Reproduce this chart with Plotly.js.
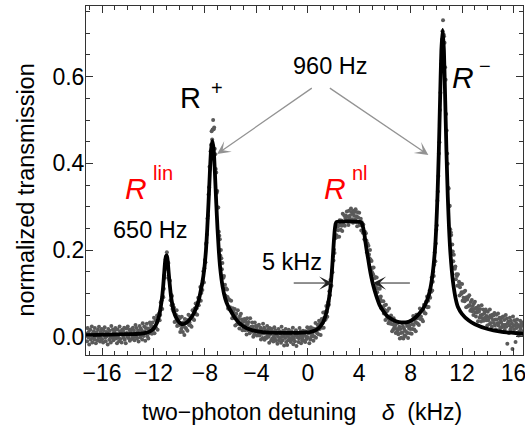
<!DOCTYPE html>
<html>
<head>
<meta charset="utf-8">
<script src="https://cdn.plot.ly/plotly-3.0.1.min.js"></script>
<style>html,body{margin:0;padding:0;background:#fff;}#chart{width:525px;height:431px;}</style>
</head>
<body>
<div id="chart"></div>
<script>
// measured transmission (gray dots), evenly spaced in detuning
const dataStart = -17.2;   // kHz
const dataStep = 0.04;     // kHz
const dataY = [
.007,-.010,.020,-.001,.011,-.018,.004,.016,-.006,.002,
.024,-.013,.008,-.002,.013,-.006,.020,.002,-.015,.010,
.006,-.008,.016,-.003,.023,.001,-.011,.011,-.004,.018,
-.006,.007,-.013,.015,.004,.022,-.002,-.010,.011,.001,
.009,-.018,.018,.006,-.007,.014,0,-.013,.025,.004,
-.003,.017,-.008,.009,.013,.001,.020,-.004,.006,-.015,
.017,-.002,.004,-.010,.024,.012,-.005,.008,-.013,.016,
.004,.014,-.002,.021,-.007,.007,-.015,.019,.009,0,
.024,-.003,.003,.016,-.009,.012,.007,-.005,.018,.002,
.021,-.001,.014,-.008,.004,.027,.001,.020,-.004,.010,
.014,-.011,.007,.025,-.001,.019,.004,.015,-.006,.031,
.009,.002,.024,.012,-.009,.020,.009,.030,.001,.019,
-.004,.018,.008,.033,.014,.027,.024,.007,.033,.014,
.022,.044,.008,.022,.038,.020,.035,.049,.016,.045,
.040,.054,.038,.050,.079,.066,.084,.064,.093,.091,
.111,.142,.136,.164,.179,.165,.195,.174,.156,.170,
.135,.131,.129,.084,.097,.073,.094,.064,.074,.059,
.067,.034,.052,.036,.050,.061,.025,.037,.029,.046,
.027,.043,.011,.031,.018,.046,.023,.011,.033,.025,
.004,.041,.021,.032,.018,.039,.014,.033,.051,.027,
.033,.048,.026,.047,.023,.047,.061,.041,.058,.039,
.065,.055,.077,.052,.066,.051,.079,.090,.073,.087,
.084,.115,.083,.101,.120,.108,.130,.151,.125,.158,
.177,.172,.214,.217,.236,.273,.279,.328,.345,.392,
.387,.428,.443,.474,.455,.478,.500,.479,.483,.434,
.421,.387,.379,.332,.336,.298,.298,.242,.233,.225,
.187,.200,.181,.156,.170,.139,.136,.140,.110,.120,
.095,.112,.092,.109,.092,.065,.087,.064,.085,.068,
.061,.083,.063,.043,.066,.044,.057,.045,.064,.026,
.046,.053,.029,.040,.061,.030,.041,.019,.048,.030,
.053,.031,.040,.015,.034,.021,.024,.041,.015,.035,
.027,.005,.043,.029,.015,.034,.020,.008,.043,.016,
.023,.012,.033,.024,0,.017,.006,.033,.013,.025,
.019,.003,.025,.013,.008,.028,.003,.015,.021,-.006,
.016,.007,-.003,.030,.008,.021,-.007,.016,-.001,.009,
-.003,.025,.004,.017,0,-.014,.020,.006,.011,-.008,
.018,-.004,.011,-.011,.001,.022,-.004,.015,-.009,.005,
.009,-.016,0,.018,-.008,.012,-.003,.007,-.014,.023,
0,-.008,.014,.002,-.020,.009,-.003,.018,-.012,.005,
-.019,.002,-.008,.016,-.003,.009,.005,-.012,.013,-.007,
0,.021,-.017,-.004,.010,-.010,.003,.015,-.021,.006,
-.001,.009,-.012,-.004,.020,.002,.013,-.015,.005,-.008,
-.002,.014,-.009,.004,.009,-.012,.013,0,-.005,.022,
-.001,.008,.019,-.015,.008,-.006,.022,0,.016,.006,
.019,-.009,.012,0,.018,.032,-.002,.013,.008,.028,
.021,.006,.037,.018,.032,.004,.028,.041,.021,.032,
.056,.021,.044,.038,.057,.041,.071,.057,.046,.078,
.081,.074,.105,.096,.131,.118,.118,.152,.149,.186,
.176,.201,.193,.231,.228,.254,.234,.230,.254,.246,
.256,.231,.269,.259,.247,.268,.256,.244,.284,.264,
.258,.280,.256,.274,.280,.269,.289,.266,.277,.258,
.291,.273,.280,.266,.296,.288,.271,.284,.263,.291,
.279,.288,.271,.294,.265,.278,.255,.287,.275,.265,
.286,.257,.261,.272,.245,.264,.256,.240,.259,.240,
.225,.242,.222,.239,.222,.195,.216,.191,.210,.190,
.181,.200,.178,.154,.175,.149,.159,.144,.160,.118,
.135,.138,.112,.119,.137,.103,.111,.086,.112,.091,
.111,.087,.093,.066,.082,.067,.068,.082,.054,.072,
.062,.039,.074,.059,.042,.060,.045,.031,.065,.036,
.042,.030,.049,.039,.013,.029,.016,.043,.021,.033,
.026,.009,.031,.018,.012,.032,.006,.018,.023,-.004,
.018,.009,-.002,.032,.010,.024,-.004,.019,.003,.014,
.002,.032,.011,.025,.009,-.003,.032,.019,.026,.008,
.018,.036,.007,.029,.018,.048,.027,.017,.040,.034,
.013,.051,.032,.043,.030,.051,.027,.046,.065,.041,
.047,.062,.040,.061,.036,.060,.074,.055,.073,.054,
.081,.070,.093,.068,.083,.069,.096,.107,.090,.106,
.104,.137,.107,.127,.150,.140,.166,.195,.174,.215,
.247,.257,.314,.335,.371,.423,.449,.523,.563,.629,
.637,.686,.705,.730,.698,.693,.678,.622,.593,.514,
.476,.423,.399,.344,.342,.301,.302,.248,.241,.235,
.197,.213,.197,.174,.189,.160,.157,.162,.133,.144,
.140,.118,.144,.119,.127,.095,.114,.123,.098,.103,
.122,.083,.102,.090,.104,.082,.106,.086,.068,.091,
.086,.070,.092,.072,.096,.073,.060,.080,.064,.085,
.059,.071,.050,.077,.064,.081,.056,.047,.067,.056,
.063,.036,.071,.058,.044,.064,.049,.035,.073,.051,
.043,.063,.037,.053,.057,.044,.063,.038,.048,.026,
.058,.038,.044,.029,.063,.049,.032,.044,.023,.051,
.039,.049,.032,.055,.026,.040,.017,.051,.040,.031,
.054,.026,.032,.044,.019,.040,.034,.022,.045,.028,
.047,.024,.039,.016,.028,.050,.023,.042,-.016,.031,
.035,.009,.026,.044,.017,.037,.022,.031,-.028,.047,
.025,.016,.038,.026,-.012,.032,.020,.040,.010,.027,
.003,.024,.013,.037,.018,.030,.025,.008,.033,.013
];

// fitted model curve (black line)
const fitX = [-17.25,-15.5,-14,-13.1,-12.6,-12.3,-12.1,-11.9,-11.75,-11.67,-11.55,-11.45,-11.38,-11.3,-11.23,-11.15,-11.08,-11.03,-10.98,-10.93,-10.88,-10.82,-10.76,-10.7,-10.63,-10.55,-10.45,-10.3,-10.11,-9.9,-9.72,-9.53,-9.33,-9.13,-8.94,-8.75,-8.55,-8.4,-8.3,-8.22,-8.12,-8.02,-7.92,-7.82,-7.72,-7.62,-7.52,-7.42,-7.32,-7.22,-7.12,-7.02,-6.92,-6.82,-6.62,-6.42,-6.22,-6.0,-5.7,-5.4,-5.0,-4.5,-4.0,-3.5,-2.5,-1.67,-0.8,-0.12,0.3,0.66,0.95,1.18,1.35,1.48,1.57,1.66,1.75,1.84,1.91,1.98,2.04,2.1,2.17,2.25,4.1,4.2,4.3,4.4,4.5,4.6,4.71,4.82,4.94,5.06,5.2,5.4,5.59,5.85,6.11,6.4,6.76,7.1,7.41,7.75,8.06,8.4,8.71,8.99,9.29,9.49,9.69,9.89,9.99,10.09,10.19,10.29,10.39,10.49,10.59,10.69,10.79,10.89,10.99,11.09,11.29,11.49,11.69,11.99,12.5,13.0,14.0,15.0,16.0,16.76];
const fitY = [.004,.005,.006,.007,.009,.012,.016,.023,.031,.038,.05,.066,.08,.1,.123,.155,.178,.186,.188,.183,.17,.148,.128,.11,.092,.077,.062,.048,.038,.031,.029,.031,.035,.042,.05,.062,.077,.095,.11,.122,.14,.165,.199,.249,.309,.376,.432,.452,.432,.376,.309,.249,.199,.161,.115,.088,.072,.06,.045,.034,.024,.017,.013,.011,.009,.009,.009,.01,.012,.016,.023,.033,.046,.06,.072,.09,.11,.138,.165,.198,.225,.247,.261,.265,.265,.262,.253,.237,.216,.196,.177,.157,.138,.122,.107,.088,.073,.06,.05,.043,.037,.034,.033,.034,.038,.045,.055,.066,.085,.105,.14,.2,.252,.326,.425,.547,.66,.708,.66,.545,.423,.323,.249,.195,.128,.09,.068,.053,.038,.029,.018,.012,.009,.007];

const xTitle = 'two\u2212photon detuning\u00a0\u00a0\u00a0 <i>\u03b4</i>\u00a0\u00a0(kHz)';
const yTitle = 'normalized transmission';

const FONT = 'Liberation Sans, Arial, Helvetica, sans-serif';

const traces = [
  {type:'scatter', mode:'markers', x0:dataStart, dx:dataStep, y:dataY,
   marker:{size:4, color:'#5a5a5a'}, hoverinfo:'skip', showlegend:false},
  {type:'scatter', mode:'lines', x:fitX, y:fitY,
   line:{color:'#000', width:3.8, shape:'spline', smoothing:0.6}, hoverinfo:'skip', showlegend:false}
];

function txt(text, x, y, size, color, extra) {
  return Object.assign({xref:'x', yref:'y', x:x, y:y, text:text, showarrow:false,
    font:{family:FONT, size:size, color:color||'#000'}, xanchor:'center', yanchor:'middle'}, extra||{});
}
function arrow(x, y, ax, ay, color, width, size) {
  return {xref:'x', yref:'y', axref:'x', ayref:'y', x:x, y:y, ax:ax, ay:ay, text:'',
    showarrow:true, arrowhead:3, arrowsize:size, arrowwidth:width, arrowcolor:color, standoff:0, startstandoff:0};
}

const annotations = [
  txt('R', -9.15, 0.551, 29),
  txt('+', -7.05, 0.575, 20),
  txt('960 Hz', 1.75, 0.625, 23.5),
  txt('<i>R</i>', -13.35, 0.343, 30, '#ff0000'),
  txt('lin', -11.25, 0.378, 20, '#ff0000'),
  txt('650 Hz', -12.3, 0.246, 23.5),
  txt('<i>R</i>', 2.14, 0.343, 30, '#ff0000'),
  txt('nl', 4.09, 0.378, 20, '#ff0000'),
  txt('<i>R</i>', 12.06, 0.599, 30),
  txt('\u2212', 13.82, 0.625, 20),
  txt('5 kHz', -1.21, 0.172, 23.5),
  arrow(-7.05, 0.4217, 0.43, 0.576, '#939393', 1.3, 1.7),
  arrow(9.38, 0.4194, 1.6, 0.576, '#939393', 1.3, 1.7),
  arrow(1.91, 0.124, -1.21, 0.124, '#222', 1, 2.2),
  arrow(5.07, 0.124, 8.06, 0.124, '#222', 1, 2.2),
  {xref:'paper', yref:'paper', x:0.4937, y:-0.163, text:xTitle, showarrow:false,
   font:{family:FONT, size:23, color:'#000'}, xanchor:'center', yanchor:'middle'},
  {xref:'paper', yref:'paper', x:-0.138, y:0.473, text:yTitle, showarrow:false, textangle:-90,
   font:{family:FONT, size:23.5, color:'#000'}, xanchor:'center', yanchor:'middle'}
];

const axisCommon = {
  showline:true, linecolor:'#333', linewidth:1, mirror:'ticks',
  ticks:'inside', ticklen:7, tickwidth:1, tickcolor:'#333',
  showgrid:false, zeroline:false, ticklabeloverflow:'allow',
  tickfont:{family:FONT, size:23, color:'#000'}
};

const layout = {
  width:525, height:431,
  margin:{l:86, r:2, t:6, b:76, pad:0},
  paper_bgcolor:'#fff', plot_bgcolor:'#fff',
  showlegend:false,
  font:{family:FONT},
  xaxis:Object.assign({}, axisCommon, {range:[-17.25, 16.74], tick0:0, dtick:4, ticklabelstandoff:-3,
    minor:{dtick:1, tick0:0, ticks:'inside', ticklen:4, tickwidth:1, tickcolor:'#333', showgrid:false}}),
  yaxis:Object.assign({}, axisCommon, {range:[-0.042, 0.763], tick0:0, dtick:0.2, tickformat:'.1f', ticklabelstandoff:-4,
    minor:{dtick:0.05, tick0:0, ticks:'inside', ticklen:4, tickwidth:1, tickcolor:'#333', showgrid:false}}),
  annotations:annotations
};

Plotly.newPlot('chart', traces, layout, {staticPlot:true, displayModeBar:false});
</script>
</body>
</html>
